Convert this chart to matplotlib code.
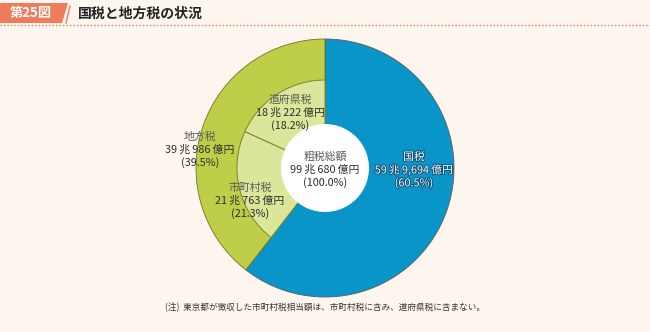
import matplotlib
matplotlib.use("Agg")
import matplotlib.pyplot as plt
import matplotlib.patheffects as pe
from matplotlib.patches import Polygon

plt.rcParams['font.family'] = ['Noto Sans CJK JP', 'DejaVu Sans']

# ---- data ----
outer_labels = ["国税", "地方税"]
outer_amounts = ["59\u2009兆\u20099,694\u2009億円", "39\u2009兆\u2009986\u2009億円"]
outer_pcts = [60.5, 39.5]
inner_labels = ["市町村税", "道府県税"]
inner_amounts = ["21\u2009兆\u2009763\u2009億円", "18\u2009兆\u2009222\u2009億円"]
inner_pcts = [21.3, 18.2]
total_label = "粗税総額"
total_amount = "99\u2009兆\u2009680\u2009億円"
total_pct = 100.0

title_tag = "第25図"
title = "国税と地方税の状況"
note = "(注)  東京都が徴収した市町村税相当額は、市町村税に含み、道府県税に含まない。"

BG = "#fdf6ef"
BLUE = "#0a95c9"
GREEN = "#bfce48"
LIGHT = "#dce69a"
SALMON = "#ee7c5c"

W, H = 650, 332
fig = plt.figure(figsize=(W / 100, H / 100), dpi=100, facecolor=BG)
ax = fig.add_axes([0, 0, 1, 1])
ax.set_facecolor(BG)

def Y(ypx):
    return H - ypx

cx, cy = 325, Y(168)

# outer ring
w_out, _ = ax.pie(outer_pcts, colors=[BLUE, GREEN], startangle=90, counterclock=False,
                  radius=129, center=(cx, cy),
                  wedgeprops=dict(edgecolor="#5a5a5a", linewidth=0.6))
w_out[1].set_edgecolor("#6b7520")

# inner ring (local taxes split)
w_in, _ = ax.pie([outer_pcts[0]] + inner_pcts, colors=[BLUE, LIGHT, LIGHT], startangle=90,
                 counterclock=False, radius=88, center=(cx, cy),
                 wedgeprops=dict(edgecolor="#7a8430", linewidth=0.7))
w_in[0].set_visible(False)

# centre
ax.pie([total_pct], colors=["white"], radius=44, center=(cx, cy),
       wedgeprops=dict(edgecolor="none", linewidth=0))

ax.set_xlim(0, W)
ax.set_ylim(0, H)
ax.set_aspect("equal")
ax.axis("off")

def label(x, y, name, amount, pct, color="#2e2e2e", namecolor="#5a5a5a", effects=None):
    kw = dict(ha="center", va="center", fontsize=7.8)
    t1 = ax.text(x, Y(y - 13), name, color=namecolor, **kw)
    t2 = ax.text(x, Y(y), amount, color=color, **kw)
    t3 = ax.text(x, Y(y + 13), f"({pct:.1f}%)", color=color, **kw)
    if effects:
        for t in (t1, t2, t3):
            t.set_path_effects(effects)

label(290, 113, inner_labels[1], inner_amounts[1], inner_pcts[1])
label(200, 150, outer_labels[1], outer_amounts[1], outer_pcts[1])
label(250, 201, inner_labels[0], inner_amounts[0], inner_pcts[0])
label(325, 170, total_label, total_amount, total_pct)
label(414, 170, outer_labels[0], outer_amounts[0], outer_pcts[0], color="white", namecolor="white",
      effects=[pe.withStroke(linewidth=1.3, foreground="#0b4f78")])

# title bar
tag = Polygon([[0, Y(3)], [68, Y(3)], [62, Y(23)], [0, Y(23)]], closed=True,
              facecolor=SALMON, edgecolor="none")
ax.add_patch(tag)
ax.plot([66, 70], [Y(23), Y(6)], color=SALMON, lw=1.0)
ax.text(31, Y(13.5), title_tag, ha="center", va="center", color="white",
        fontsize=9.5, fontweight="bold")
ax.text(78, Y(13.5), title, ha="left", va="center", color="#222222",
        fontsize=10, fontweight="bold")
ax.plot([0, W], [Y(25), Y(25)], color=SALMON, lw=1.0, linestyle=(0, (1, 1.5)))

ax.text(165, Y(308), note, ha="left", va="center", color="#333333", fontsize=6.2)

fig.savefig("out.png", dpi=100, facecolor=BG)
